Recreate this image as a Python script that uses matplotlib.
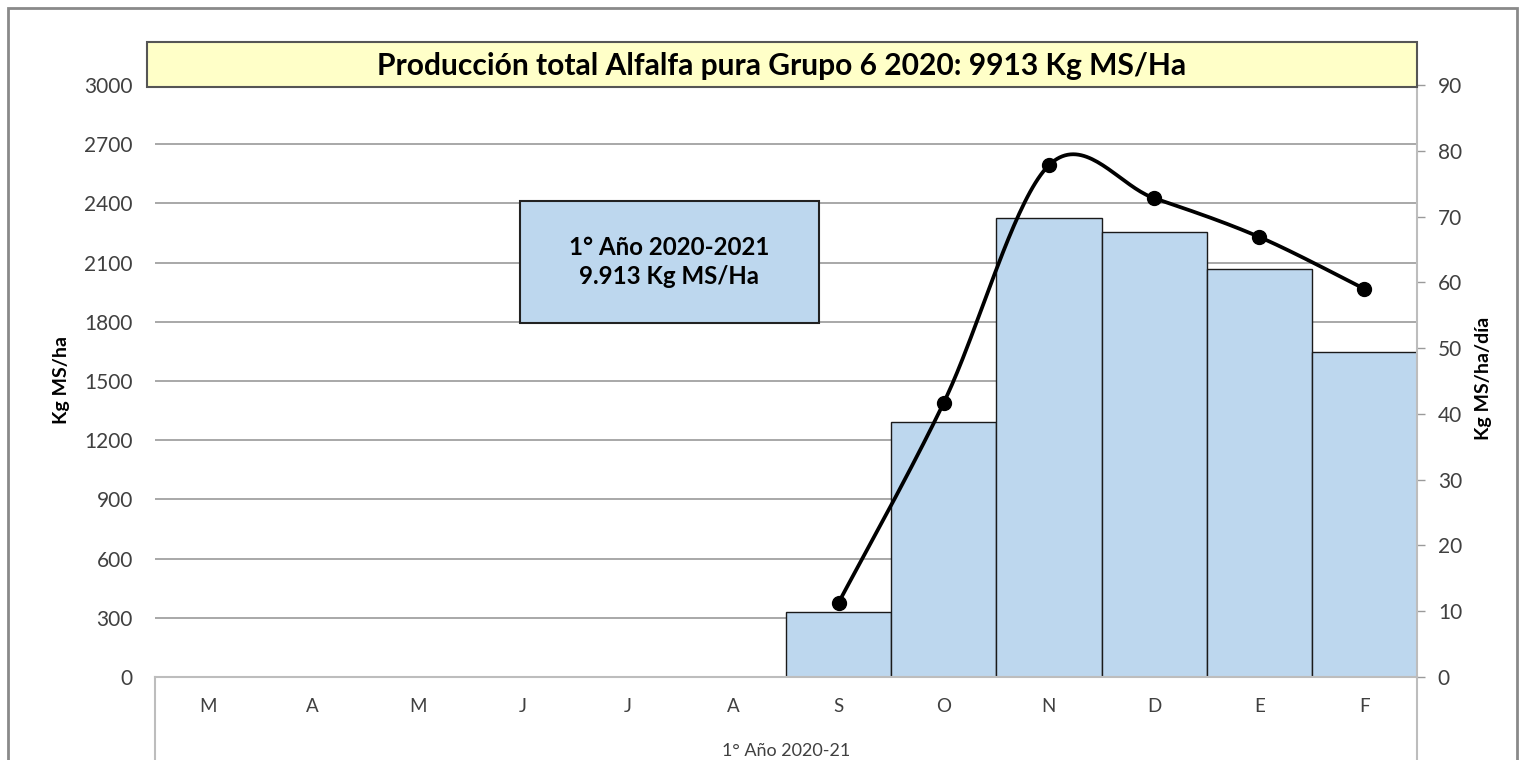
import matplotlib.pyplot as plt
import numpy as np
from matplotlib.patches import Rectangle
from matplotlib.lines import Line2D

plt.rcParams['font.family'] = ['Lato', 'DejaVu Sans']

# data
months = ['M', 'A', 'M', 'J', 'J', 'A', 'S', 'O', 'N', 'D', 'E', 'F']
prod_kg = [0, 0, 0, 0, 0, 0, 330, 1290, 2325, 2255, 2070, 1645]   # Kg MS/ha per month
rate_idx = [6, 7, 8, 9, 10, 11]
rate_kg_day = [11.3, 41.7, 77.8, 72.8, 66.9, 59.0]               # Kg MS/ha/dia
yticks_left = [0, 300, 600, 900, 1200, 1500, 1800, 2100, 2400, 2700, 3000]
yticks_right = [0, 10, 20, 30, 40, 50, 60, 70, 80, 90]
title = 'Producción total Alfalfa pura Grupo 6 2020: 9913 Kg MS/Ha'
box_text = '1° Año 2020-2021\n9.913 Kg MS/Ha'
group_label = '1° Año 2020-21'


def smooth(x, y, n=40):
    # Catmull-Rom curve through the points (like Excel's smoothed line)
    x = np.asarray(x, float)
    y = np.asarray(y, float)
    px = np.concatenate([[x[0]], x, [x[-1]]])
    py = np.concatenate([[y[0]], y, [y[-1]]])
    xs, ys = [], []
    for i in range(1, len(px) - 2):
        t = np.linspace(0, 1, n)
        h00 = 2*t**3 - 3*t**2 + 1
        h10 = t**3 - 2*t**2 + t
        h01 = -2*t**3 + 3*t**2
        h11 = t**3 - t**2
        mx0 = (px[i+1] - px[i-1]) / 2
        mx1 = (px[i+2] - px[i]) / 2
        my0 = (py[i+1] - py[i-1]) / 2
        my1 = (py[i+2] - py[i]) / 2
        xs.append(h00*px[i] + h10*mx0 + h01*px[i+1] + h11*mx1)
        ys.append(h00*py[i] + h10*my0 + h01*py[i+1] + h11*my1)
    return np.concatenate(xs), np.concatenate(ys)


W, H = 1523, 760
fig = plt.figure(figsize=(W/100, H/100), dpi=100)
fig.patch.set_facecolor('white')

x0, x1, y0, y1 = 155, 1417, 677, 85
ax = fig.add_axes([x0/W, 1 - y0/H, (x1 - x0)/W, (y0 - y1)/H])

x = np.arange(len(months))
prod = np.array(prod_kg, float)
mask = prod > 0
ax.bar(x[mask], prod[mask], width=1.0, color='#BDD7EE', edgecolor='#1a1a1a', linewidth=1.0, zorder=2)
ax.set_xlim(-0.5, len(months) - 0.5)
ax.set_ylim(0, 3000)
ax.set_yticks(yticks_left)
ax.yaxis.grid(True, color='#9a9a9a', linewidth=1.2, zorder=0)
ax.set_axisbelow(True)
ax.set_xticks(x)
ax.set_xticklabels(months)
ax.tick_params(axis='x', length=0, pad=15, labelsize=13.5, labelcolor='#404040')
ax.tick_params(axis='y', length=0, pad=16, labelsize=15, labelcolor='#404040')
for s in ['top', 'left', 'right']:
    ax.spines[s].set_visible(False)
ax.spines['bottom'].set_color('#bdbdbd')
ax.spines['bottom'].set_linewidth(1.5)

ax2 = ax.twinx()
ax2.set_ylim(0, 90)
ax2.set_yticks(yticks_right)
sx, sy = smooth([x[i] for i in rate_idx], rate_kg_day)
ax2.plot(sx, sy, color='black', linewidth=2.7, zorder=5)
ax2.plot([x[i] for i in rate_idx], rate_kg_day, 'o', color='black', markersize=10, zorder=6)
ax2.tick_params(axis='y', length=6, width=1, color='#9a9a9a', pad=9, labelsize=15, labelcolor='#404040')
for s in ['top', 'left', 'bottom']:
    ax2.spines[s].set_visible(False)
ax2.spines['right'].set_color('#bdbdbd')
ax2.spines['right'].set_linewidth(1.5)

# axis titles
fig.text(61/W, 1 - 380/H, 'Kg MS/ha', rotation=90, ha='center', va='center', fontsize=14, fontweight='bold')
fig.text(1483/W, 1 - 378/H, 'Kg MS/ha/día', rotation=90, ha='center', va='center', fontsize=14, fontweight='bold')

# title box
fig.patches.append(Rectangle((147/W, 1 - 87/H), (1417 - 147)/W, 45/H, transform=fig.transFigure,
                             facecolor='#FFFFC8', edgecolor='#555555', linewidth=1.5, zorder=3))
fig.text(782/W, 1 - 66/H, title, ha='center', va='center', fontsize=21.6, fontweight='bold', zorder=4)

# annotation box
fig.patches.append(Rectangle((520/W, 1 - 323/H), 299/W, 122/H, transform=fig.transFigure,
                             facecolor='#BDD7EE', edgecolor='#222222', linewidth=1.5, zorder=3))
fig.text(669/W, 1 - 262/H, box_text, ha='center', va='center', fontsize=17.3, fontweight='bold',
         linespacing=1.3, zorder=4)

# multi-level category frame and group label
for xx in [x0, x1]:
    fig.add_artist(Line2D([xx/W, xx/W], [0, 1 - y0/H], color='#bdbdbd', linewidth=1.5))
fig.text(786/W, 1 - 751/H, group_label, ha='center', va='center', fontsize=13, color='#404040')

# outer border
fig.patches.append(Rectangle((8/W, -0.05), (1517 - 8)/W, 1.05 - 8/H, transform=fig.transFigure,
                             facecolor='none', edgecolor='#8a8a8a', linewidth=2))

plt.savefig('out.png', dpi=100)
